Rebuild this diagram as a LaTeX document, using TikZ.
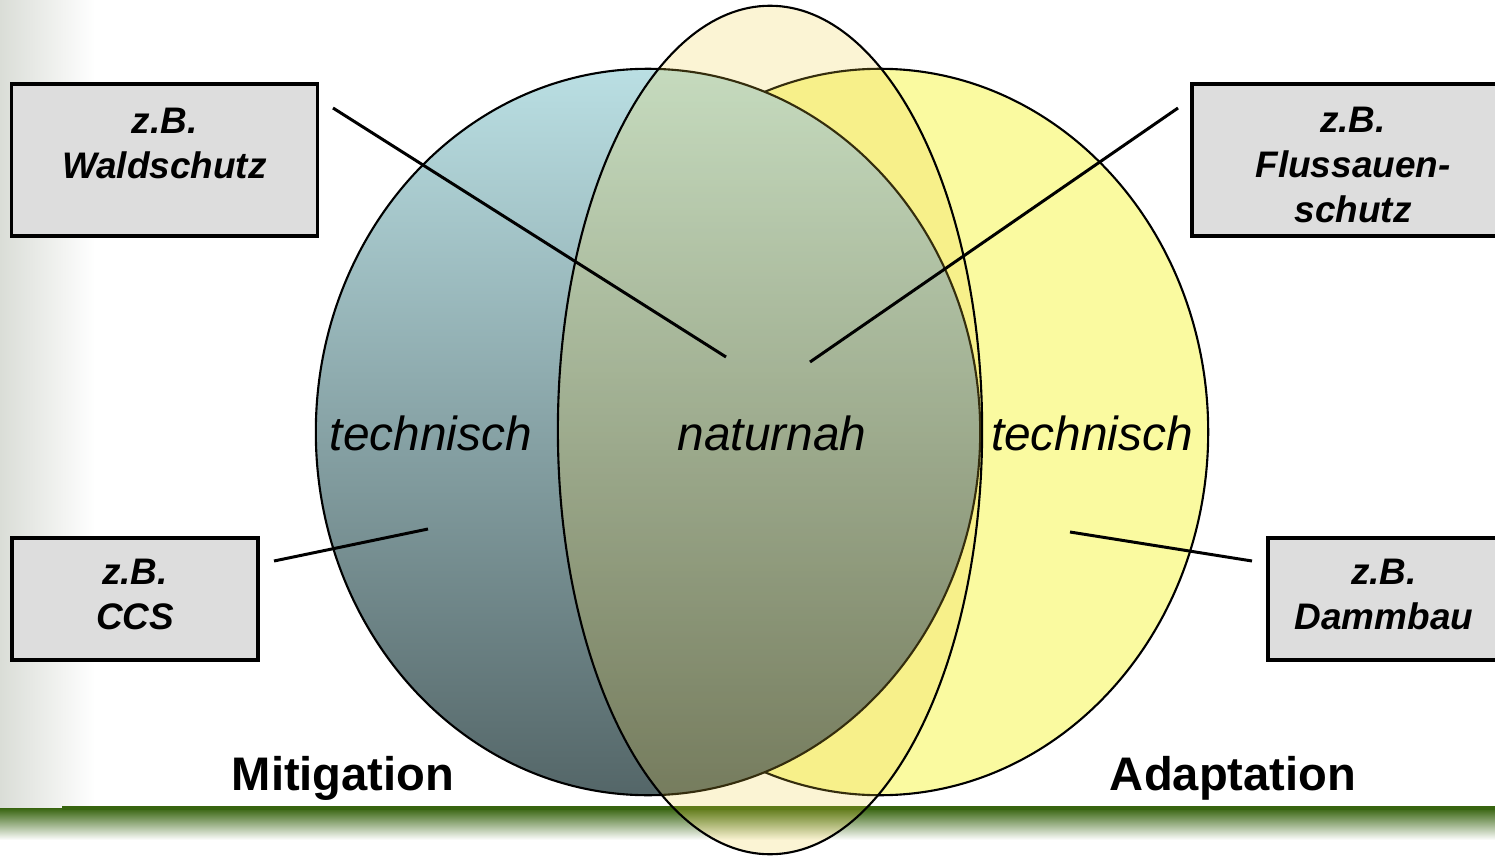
\documentclass[tikz,border=0pt]{standalone}
\usepackage{fontspec}
\setmainfont{Liberation Sans}
\definecolor{mititop}{RGB}{186,223,227}
\definecolor{mitimid}{RGB}{158,186,189}
\definecolor{mitibot}{RGB}{84,102,104}
\definecolor{adaptyellow}{RGB}{250,250,160}
\definecolor{naturfill}{RGB}{240,205,60}
\definecolor{boxgray}{RGB}{221,221,221}
\definecolor{leftgray}{RGB}{218,221,215}
\definecolor{bandgreen}{RGB}{55,100,15}
\newcommand{\topstrut}{\rule{0pt}{10.3pt}}
\newcommand{\botstrut}{\rule[-2.5pt]{0pt}{2.5pt}}
\begin{document}
\begin{tikzpicture}[x=0.01cm,y=-0.01cm,
  ringline/.style={line width=0.6pt,draw=black},
  exbox/.style={draw=black,line width=0.9pt,fill=boxgray,align=center,
    font=\fontsize{10.5}{12.8}\selectfont\bfseries\itshape,inner sep=0pt},
  setlabel/.style={font=\fontsize{13.6}{16}\selectfont\itshape,inner sep=0pt},
  grouplabel/.style={font=\fontsize{13.4}{16}\selectfont\bfseries,inner sep=0pt},
  connector/.style={line width=0.85pt,draw=black}]
\useasboundingbox (0,0) rectangle (1495,855);
\fill[white] (0,0) rectangle (1495,855);
% page decoration
\shade[left color=leftgray,right color=white] (0,0) rectangle (95,810);
\shade[top color=bandgreen,bottom color=white] (0,808) rectangle (1495,840);
\fill[bandgreen] (62,806) rectangle (1495,810);
% sets
\draw[ringline,fill=adaptyellow] (880,432) ellipse [x radius=3.28cm,y radius=3.63cm];
\draw[ringline,top color=mititop,middle color=mitimid,bottom color=mitibot] (648,432) ellipse [x radius=3.32cm,y radius=3.63cm];
\fill[naturfill,opacity=0.22] (770,430) ellipse [x radius=2.12cm,y radius=4.24cm];
\draw[ringline] (770,430) ellipse [x radius=2.12cm,y radius=4.24cm];
% labels
\node[setlabel] (tl) at (431,433) {technisch};
\node[setlabel] (nat) at (772,433) {naturnah};
\node[setlabel] (tr) at (1092,433) {technisch};
\node[grouplabel] (mit) at (343,778) {Mitigation};
\node[grouplabel] (ada) at (1233,778) {Adaptation};
% boxes
\node[exbox,minimum width=3.05cm,minimum height=1.52cm] (wald) at (164.5,160) {\topstrut z.B.\\Waldschutz\\\mbox{}};
\node[exbox,minimum width=2.46cm,minimum height=1.22cm] (ccs) at (135,599) {z.B.\\CCS\botstrut};
\node[exbox,minimum width=3.22cm,minimum height=1.52cm] (fluss) at (1353,160) {\topstrut z.B.\\Flussauen-\\schutz};
\node[exbox,minimum width=2.32cm,minimum height=1.22cm] (damm) at (1384,599) {z.B.\\Dammbau\botstrut};
% connectors
\coordinate (w1) at (333,108);
\coordinate (w2) at (726,357);
\coordinate (f1) at (1178,108);
\coordinate (f2) at (810,362);
\coordinate (c1) at (274,561);
\coordinate (c2) at (428,529);
\coordinate (d1) at (1070,532);
\coordinate (d2) at (1252,561);
\draw[connector] (w1) -- (w2);
\draw[connector] (f1) -- (f2);
\draw[connector] (c1) -- (c2);
\draw[connector] (d1) -- (d2);
\end{tikzpicture}
\end{document}
